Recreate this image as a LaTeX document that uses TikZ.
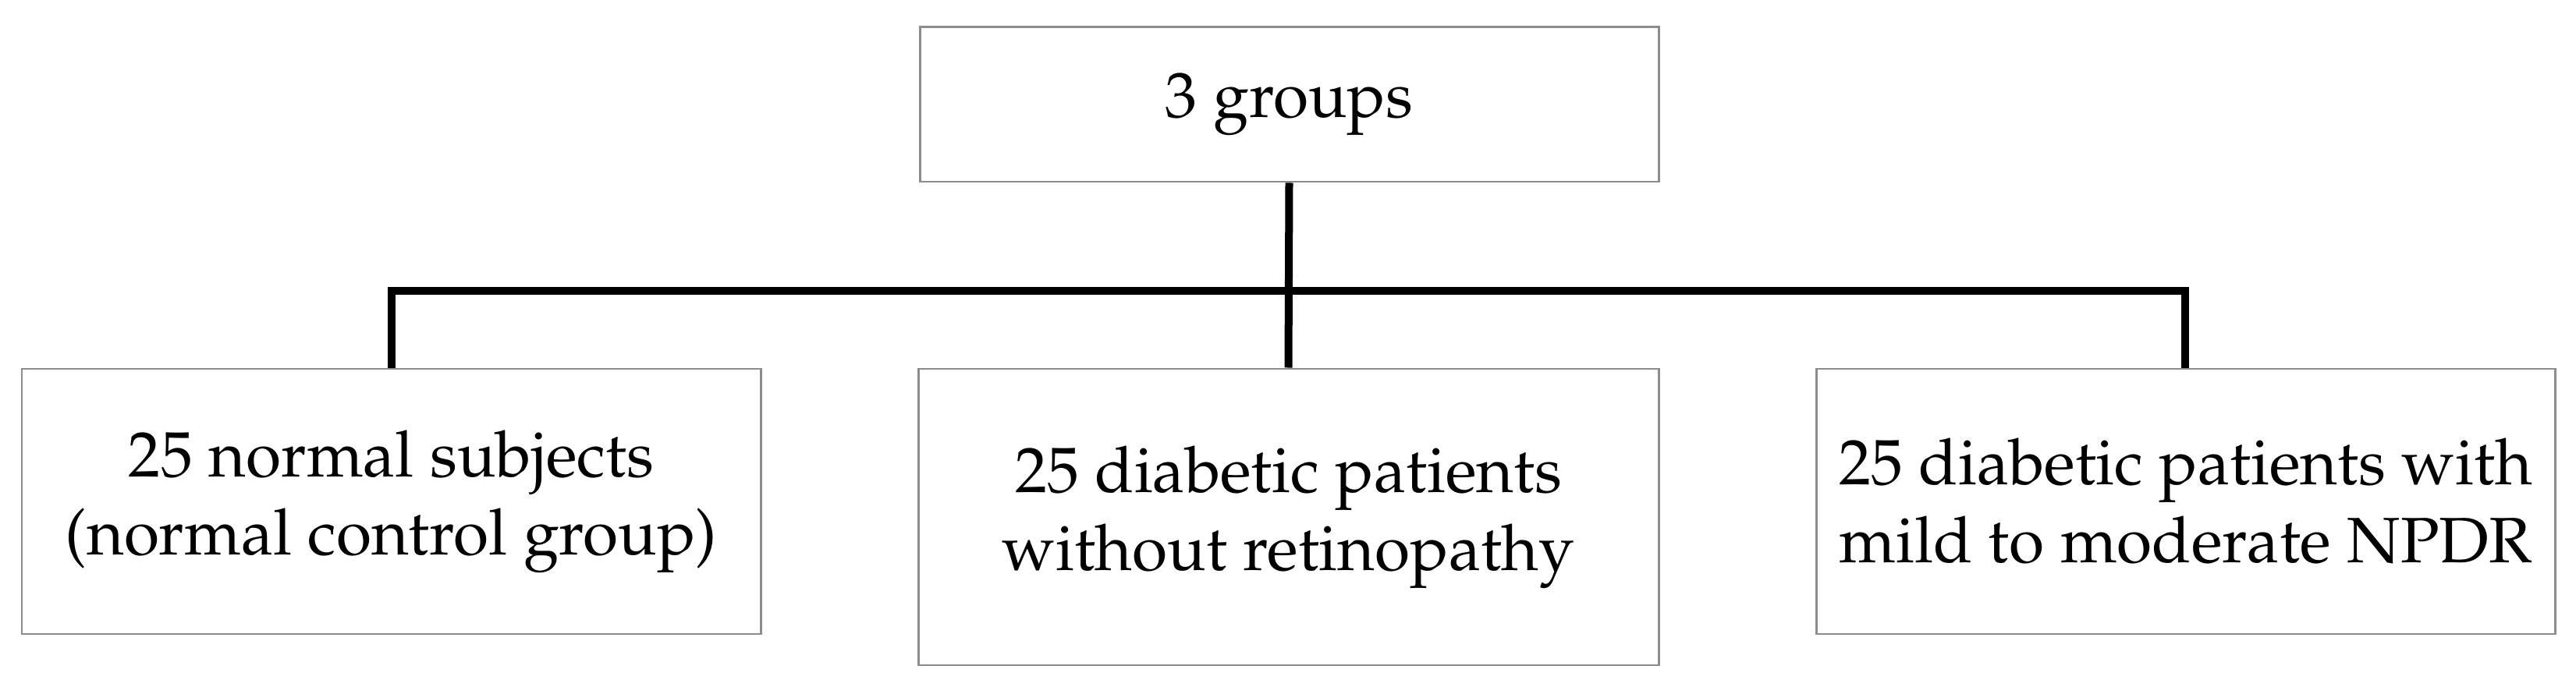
\documentclass[tikz,border=0pt]{standalone}
\usepackage[T1]{fontenc}
\usepackage{palatino}
\begin{document}
\begin{tikzpicture}[x=1cm,y=1cm,
  gbox/.style={draw=boxgray, line width=0.85pt, fill=white, minimum width=9.47cm, align=center, inner sep=0pt,
    font=\fontsize{23.4}{28.45}\selectfont},
  link/.style={draw=black, line width=0.1cm}]
\definecolor{boxgray}{HTML}{8C8C8C}
\useasboundingbox (0,0) rectangle (33.02,8.8);
\node[gbox, minimum height=1.98cm] (top) at (16.525,7.46) {3 groups};
\node[gbox, minimum height=3.40cm] (left) at (5.015,2.37) {25 normal subjects\\(normal control group)};
\node[gbox, minimum width=9.49cm, minimum height=3.80cm] (mid) at (16.515,2.17) {25 diabetic patients\\without retinopathy};
\node[gbox, minimum height=3.40cm] (right) at (28.015,2.37) {25 diabetic patients with\\mild to moderate NPDR};
\coordinate (busL) at (5.02,5.07);
\coordinate (busM) at (16.52,5.07);
\coordinate (busR) at (28.01,5.07);
\draw[link] (top.south) -- (mid.north);
\draw[link] (left.north -| busL) -- (busL) -- (busR) -- (right.north -| busR);
\end{tikzpicture}
\end{document}
